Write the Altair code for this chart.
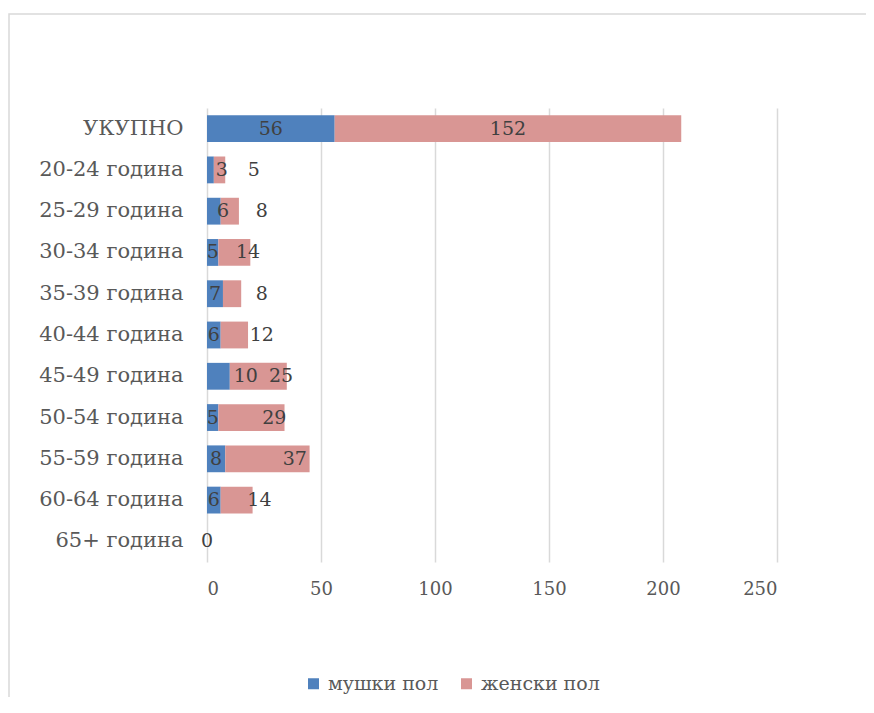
import altair as alt
import pandas as pd

# ---- data ----
categories = ["УКУПНО", "20-24 година", "25-29 година", "30-34 година", "35-39 година",
              "40-44 година", "45-49 година", "50-54 година", "55-59 година",
              "60-64 година", "65+ година"]
male = [56, 3, 6, 5, 7, 6, 10, 5, 8, 6, 0]
female = [152, 5, 8, 14, 8, 12, 25, 29, 37, 14, 0]
series = ["мушки пол", "женски пол"]
colors = ["#4F81BD", "#D99694"]

# manual label nudges of the original (in axis units, added to the segment centre)
male_nudge = [0, 5, 4, 0, 0, 0, 12, 0, 0, 0, 0]
female_nudge = [0, 15, 14, 6, 13, 12, 10, 10, 12, 10, 0]

rows = []
for i, c in enumerate(categories):
    m, f = male[i], female[i]
    rows.append({"cat": c, "series": series[0], "value": m, "start": 0, "end": m,
                 "lx": m / 2 + male_nudge[i], "show": True})
    rows.append({"cat": c, "series": series[1], "value": f, "start": m, "end": m + f,
                 "lx": m + f / 2 + female_nudge[i], "show": f > 0})
df = pd.DataFrame(rows)

FONT = "DejaVu Serif"
xscale = alt.Scale(domain=[0, 250], nice=False)
yscale = alt.Scale(domain=categories, paddingInner=0.35, paddingOuter=0.175)

frame = alt.Chart(pd.DataFrame({"a": [0]})).mark_rect(
    fillOpacity=0, stroke="#D9D9D9", strokeWidth=1.5, clip=False
).encode(x=alt.value(-198), x2=alt.value(720), y=alt.value(-94), y2=alt.value(720))

bars = alt.Chart(df).mark_bar().encode(
    y=alt.Y("cat:N", scale=yscale, sort=categories, title=None,
            axis=alt.Axis(labelFont=FONT, labelFontSize=21, labelColor="#595959",
                          labelPadding=24, ticks=False, domain=False, grid=False,
                          labelLimit=400)),
    x=alt.X("start:Q", scale=xscale, title=None,
            axis=alt.Axis(values=[0, 50, 100, 150, 200, 250], labelFont=FONT,
                          labelFontSize=18, labelColor="#595959", labelPadding=18,
                          ticks=False, domain=False, grid=True, gridColor="#D9D9D9",
                          gridWidth=1.5)),
    x2="end:Q",
    color=alt.Color("series:N", scale=alt.Scale(domain=series, range=colors),
                    sort=series, title=None,
                    legend=alt.Legend(orient="none", legendX=97, legendY=566,
                                      direction="horizontal", symbolType="square",
                                      symbolSize=121, symbolStrokeWidth=0,
                                      labelFont=FONT, labelFontSize=19,
                                      labelColor="#595959", labelOffset=5,
                                      columnPadding=18)),
)

labels = alt.Chart(df).transform_filter("datum.show").mark_text(
    font=FONT, fontSize=19, color="#404040", baseline="middle", align="center"
).encode(
    y=alt.Y("cat:N", scale=yscale, sort=categories),
    x=alt.X("lx:Q", scale=xscale),
    text="value:Q",
)

chart = alt.layer(frame, bars, labels).properties(
    width=570, height=454,
    autosize=alt.AutoSizeParams(type="none"),
    padding={"left": 199, "top": 100, "right": 89, "bottom": 135},
    background="white",
).configure_view(stroke=None)

chart.save("out.html", embed_options={"renderer": "svg", "actions": False})
